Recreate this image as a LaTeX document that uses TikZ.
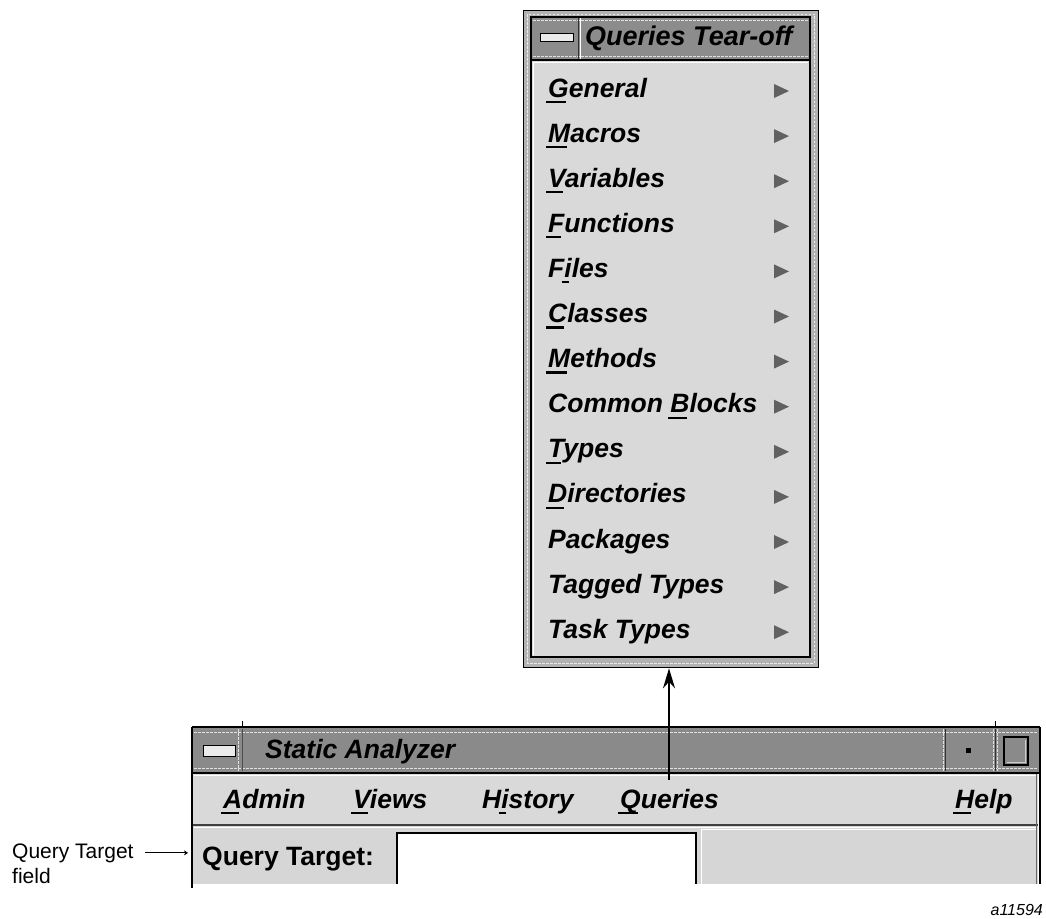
\documentclass[tikz,border=0pt]{standalone}
\usepackage{fontspec}
\setmainfont{Liberation Sans}
\usetikzlibrary{arrows.meta}

% mnemonic underline under one letter
\newcommand\mnem[1]{\setbox0\hbox{#1}\rlap{\kern-2pt\rule[-6pt]{\dimexpr\wd0-1pt\relax}{2.2pt}}#1}

\tikzset{
  uifont/.style={font=\fontsize{26.5}{30}\selectfont\bfseries\itshape},
  menuitem/.style={uifont, anchor=base west, inner sep=0pt},
  subarrow/.style={fill=black!62, draw=none},
  stipple/.style={draw=white, line width=0.8pt, dash pattern=on 2.5pt off 1.5pt, opacity=0.75},
  darkline/.style={draw=black, line width=2.4pt},
  annot/.style={font=\fontsize{21}{25}\selectfont, anchor=base west, inner sep=0pt},
}

\begin{document}
\begin{tikzpicture}[x=1pt,y=-1pt]
\useasboundingbox[fill=white] (0,0) rectangle (1046,918);

% ---------------- tear-off menu window ----------------
\node[draw=black, line width=1.3pt, fill=black!30, anchor=north west, inner sep=0pt,
      minimum width=295pt, minimum height=657pt] (tearoff) at (523,10) {};
\draw[stipple] (527,14) rectangle (814,663);
% title bar
\fill[black!45] (532,18) rectangle (809,59);
\draw[stipple] (533,20.5) -- (808,20.5);
\draw[stipple] (533,56.5) -- (808,56.5);
% body
\fill[black!15] (532,61) rectangle (809,656);
\draw[white, line width=1pt] (533.5,655) -- (533.5,62.5) -- (808,62.5);
% inner frame and title separator
\draw[darkline] (531,17) rectangle (810,657);
\draw[darkline] (531,60) -- (810,60);
% window menu button
\draw[black!80, line width=1pt] (578.5,18) -- (578.5,59);
\draw[white, line width=1pt] (580.5,18) -- (580.5,59);
\draw[black, line width=1pt, fill=black!8] (540,33) rectangle (573,41.5);
\node[menuitem, font=\fontsize{27}{30}\selectfont\bfseries\itshape] (tearofftitle) at (585,45) {Queries Tear-off};

% menu entries
\foreach \txt/\nm [count=\i from 0] in {
  {\mnem{G}eneral}/general, {\mnem{M}acros}/macros, {\mnem{V}ariables}/variables,
  {\mnem{F}unctions}/functions, {F\mnem{i}les}/files, {\mnem{C}lasses}/classes,
  {\mnem{M}ethods}/methods, {Common \mnem{B}locks}/commonblocks, {\mnem{T}ypes}/types,
  {\mnem{D}irectories}/directories, {Packages}/packages, {Tagged Types}/taggedtypes,
  {Task Types}/tasktypes}{
  \pgfmathsetmacro\b{97+45.1*\i}
  \node[menuitem] (item-\nm) at (548,\b) {\txt};
  \fill[subarrow] (774,\b-13) -- (789,\b-6) -- (774,\b+1) -- cycle;
}

% ---------------- Static Analyzer main window ----------------
% title bar
\fill[black!46] (193,728) rectangle (1039,772);
\draw[stipple] (194,732.5) -- (1037,732.5);
\draw[stipple] (194,768.5) -- (1037,768.5);
\draw[black, line width=1.5pt] (192,727) -- (1040,727);
\draw[black, line width=1pt] (242,721) -- (242,728);
\draw[black, line width=1pt] (995,721) -- (995,728);
% title bar segments
\draw[stipple] (238,729) -- (238,771);
\draw[black!70, line width=1pt] (242,729) -- (242,771);
\draw[stipple] (943,729) -- (943,771);
\draw[black!80, line width=1pt] (945,729) -- (945,771);
\draw[stipple] (993,729) -- (993,771);
\draw[black!80, line width=1pt] (995,729) -- (995,771);
\draw[stipple] (997,729) -- (997,771);
\draw[black, line width=1pt, fill=black!8] (203,745) rectangle (235,756);
\fill[black] (965.5,747.5) rectangle (970.5,752.5);
\draw[black, line width=2pt] (1004,737) rectangle (1028,765);
\draw[white!80!black, line width=0.8pt] (1006.5,762.5) -- (1025.5,762.5) -- (1025.5,739.5);
\node[menuitem] (wintitle) at (265,758) {Static Analyzer};
\draw[black, line width=2pt] (192,772.5) -- (1040,772.5);
% menu bar
\fill[black!15] (193,774) rectangle (1038,824);
\draw[white, line width=1pt] (194,775.5) -- (1037,775.5);
\draw[black!75, line width=2pt] (193,824.5) -- (1038,824.5);
\node[menuitem] (m-admin) at (223,808) {\mnem{A}dmin};
\node[menuitem] (m-views) at (353,808) {\mnem{V}iews};
\node[menuitem] (m-history) at (482,808) {H\mnem{i}story};
\node[menuitem] (m-queries) at (620,808) {\mnem{Q}ueries};
\node[menuitem] (m-help) at (955,808) {\mnem{H}elp};
% query target row
\fill[black!16] (193,826) rectangle (1038,884);
\draw[white, line width=1pt] (194,827) -- (1037,827);
\node[anchor=base west, inner sep=0pt, font=\fontsize{26.5}{30}\selectfont\bfseries] (qtlabel) at (202,865) {Query Target:};
\fill[white] (397,833) rectangle (696,884);
\draw[black, line width=1.6pt] (397,884) -- (397,833) -- (696,833) -- (696,884);
\draw[white, line width=1pt] (701,884) -- (701,829) -- (1036,829);
% window borders
\draw[black, line width=1.5pt] (192,727) -- (192,888);
\draw[black, line width=1.5pt] (1040,727) -- (1040,884);
\draw[black!60, line width=1pt] (1036.5,774) -- (1036.5,884);

% ---------------- connectors and labels ----------------
\coordinate (qtop) at (669,780);
\draw[black, line width=1.6pt, -{Stealth[length=20pt,width=12pt]}] (qtop) -- (qtop |- tearoff.south);

\node[annot] (annA) at (12,858) {Query Target};
\node[annot] (annB) at (12,883) {field};
\coordinate (winleft) at (188,852);
\draw[black, line width=1pt, -{Stealth[length=4pt,width=5pt]}] ([xshift=11pt]annA.east) -- (annA.east -| winleft);

\node[anchor=base east, inner sep=0pt, font=\fontsize{16}{19}\selectfont\itshape] (figid) at (1043,915) {a11594};
\end{tikzpicture}
\end{document}
